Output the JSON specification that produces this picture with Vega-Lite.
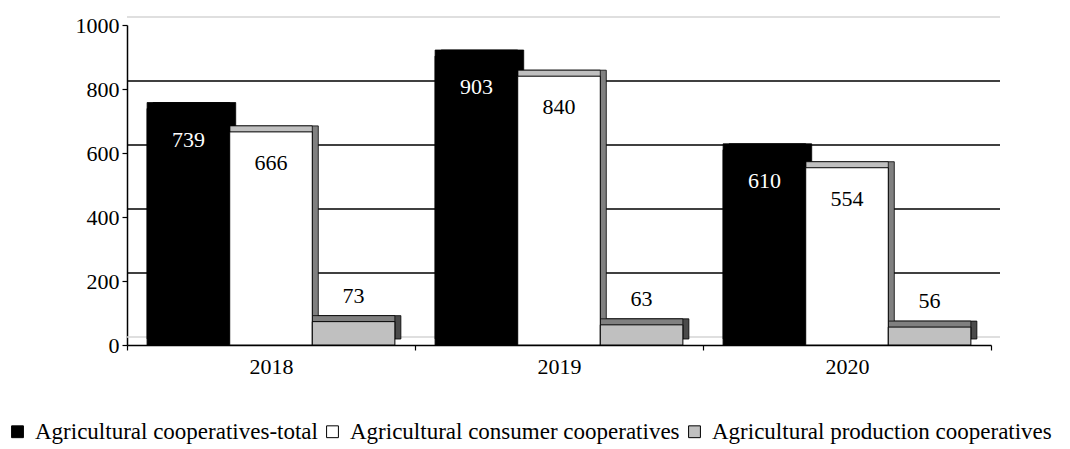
{
  "$schema": "https://vega.github.io/schema/vega-lite/v6.json",
  "width": 864,
  "height": 320,
  "autosize": {"type": "none"},
  "padding": {"left": 127, "top": 25, "right": 79, "bottom": 104},
  "background": "white",
  "config": {
    "font": "Liberation Serif",
    "view": {"stroke": null},
    "text": {"font": "Liberation Serif"},
    "axis": {"labelFont": "Liberation Serif", "labelColor": "#000", "domainColor": "#000", "tickColor": "#000", "grid": false},
    "axisY": {"labelFont": "Liberation Serif", "labelFontSize": 22, "tickSize": 5, "labelPadding": 3, "domainWidth": 1.5, "tickWidth": 1.2, "format": "d"},
    "axisX": {"labelFont": "Liberation Serif", "labelFontSize": 22, "tickSize": 5, "labelPadding": 6, "domainWidth": 1.5, "tickWidth": 1.2, "labelAngle": 0, "tickBand": "extent"},
    "legend": {"labelFont": "Liberation Serif", "labelColor": "#000", "labelLimit": 0}
  },
  "datasets": {
    "main": [
      {"year": "2018", "series": "Agricultural cooperatives-total", "value": 739},
      {"year": "2018", "series": "Agricultural consumer cooperatives", "value": 666},
      {"year": "2018", "series": "Agricultural production cooperatives", "value": 73},
      {"year": "2019", "series": "Agricultural cooperatives-total", "value": 903},
      {"year": "2019", "series": "Agricultural consumer cooperatives", "value": 840},
      {"year": "2019", "series": "Agricultural production cooperatives", "value": 63},
      {"year": "2020", "series": "Agricultural cooperatives-total", "value": 610},
      {"year": "2020", "series": "Agricultural consumer cooperatives", "value": 554},
      {"year": "2020", "series": "Agricultural production cooperatives", "value": 56}
    ],
    "grid": [{"g": 0}, {"g": 200}, {"g": 400}, {"g": 600}, {"g": 800}, {"g": 1000}]
  },
  "resolve": {"scale": {"xOffset": "independent"}},
  "layer": [
    {
      "data": {"name": "grid"},
      "mark": {"type": "rule", "xOffset": 9, "yOffset": -8, "strokeWidth": 1.3},
      "encoding": {
        "y": {"field": "g", "type": "quantitative", "scale": {"domain": [0, 1000]},
          "axis": {"values": [0, 200, 400, 600, 800, 1000], "title": null}},
        "color": {"condition": {"test": "datum.g == 0 || datum.g == 1000", "value": "#d4d4d4"}, "value": "#000000"}
      }
    },
    {
      "data": {"name": "main"},
      "mark": {"type": "bar", "yOffset": -6, "y2Offset": -6, "stroke": "#000", "strokeWidth": 0.8},
      "encoding": {
        "x": {"field": "year", "type": "nominal", "scale": {"paddingInner": 0, "paddingOuter": 0}, "axis": {"title": null}},
        "xOffset": {"field": "series", "type": "nominal", "scale": {"type": "band", "domain": ["Agricultural cooperatives-total", "Agricultural consumer cooperatives", "Agricultural production cooperatives"], "paddingInner": 0, "paddingOuter": 0.2435, "range": [6, 294]}},
        "y": {"field": "value", "type": "quantitative"},
        "fill": {"condition": [
          {"test": "datum.series == 'Agricultural consumer cooperatives'", "value": "#808080"},
          {"test": "datum.series == 'Agricultural production cooperatives'", "value": "#4a4a4a"}], "value": "#000000"}
      }
    },
    {
      "data": {"name": "main"},
      "mark": {"type": "bar", "yOffset": -6, "y2Offset": -6, "stroke": "#000", "strokeWidth": 0.8},
      "encoding": {
        "x": {"field": "year", "type": "nominal"},
        "xOffset": {"field": "series", "type": "nominal", "scale": {"type": "band", "domain": ["Agricultural cooperatives-total", "Agricultural consumer cooperatives", "Agricultural production cooperatives"], "paddingInner": 0, "paddingOuter": 0.2435}},
        "y": {"field": "value", "type": "quantitative"},
        "fill": {"condition": [
          {"test": "datum.series == 'Agricultural consumer cooperatives'", "value": "#c0c0c0"},
          {"test": "datum.series == 'Agricultural production cooperatives'", "value": "#808080"}], "value": "#000000"}
      }
    },
    {
      "data": {"name": "main"},
      "mark": {"type": "bar", "stroke": "#000", "strokeWidth": 1},
      "encoding": {
        "x": {"field": "year", "type": "nominal"},
        "xOffset": {"field": "series", "type": "nominal", "scale": {"type": "band", "domain": ["Agricultural cooperatives-total", "Agricultural consumer cooperatives", "Agricultural production cooperatives"], "paddingInner": 0, "paddingOuter": 0.2435}},
        "y": {"field": "value", "type": "quantitative"},
        "color": {"field": "series", "type": "nominal",
          "scale": {"domain": ["Agricultural cooperatives-total", "Agricultural consumer cooperatives", "Agricultural production cooperatives"], "range": ["#000000", "#ffffff", "#c0c0c0"]},
          "legend": {"orient": "none", "legendX": -121, "legendY": 395, "direction": "horizontal", "title": null, "labelFontSize": 23, "labelLimit": 0, "symbolType": "square", "symbolSize": 140, "symbolStrokeColor": "#000", "symbolStrokeWidth": 1, "columnPadding": 3, "labelOffset": 6, "symbolOpacity": 1}},
        "opacity": {"value": 1}
      }
    },
    {
      "data": {"name": "main"},
      "transform": [{"filter": "datum.value >= 100"}],
      "mark": {"type": "text", "font": "Liberation Serif", "fontSize": 22, "baseline": "middle", "dy": 31},
      "encoding": {
        "x": {"field": "year", "type": "nominal"},
        "xOffset": {"field": "series", "type": "nominal", "scale": {"type": "band", "domain": ["Agricultural cooperatives-total", "Agricultural consumer cooperatives", "Agricultural production cooperatives"], "paddingInner": 0, "paddingOuter": 0.2435}},
        "y": {"field": "value", "type": "quantitative"},
        "text": {"field": "value", "type": "quantitative"},
        "color": {"condition": {"test": "datum.series == 'Agricultural cooperatives-total'", "value": "#ffffff"}, "value": "#000000"}
      }
    },
    {
      "data": {"name": "main"},
      "transform": [{"filter": "datum.value < 100"}],
      "mark": {"type": "text", "font": "Liberation Serif", "fontSize": 22, "baseline": "middle", "dy": -26, "color": "#000"},
      "encoding": {
        "x": {"field": "year", "type": "nominal"},
        "xOffset": {"field": "series", "type": "nominal", "scale": {"type": "band", "domain": ["Agricultural cooperatives-total", "Agricultural consumer cooperatives", "Agricultural production cooperatives"], "paddingInner": 0, "paddingOuter": 0.2435}},
        "y": {"field": "value", "type": "quantitative"},
        "text": {"field": "value", "type": "quantitative"}
      }
    }
  ]
}
